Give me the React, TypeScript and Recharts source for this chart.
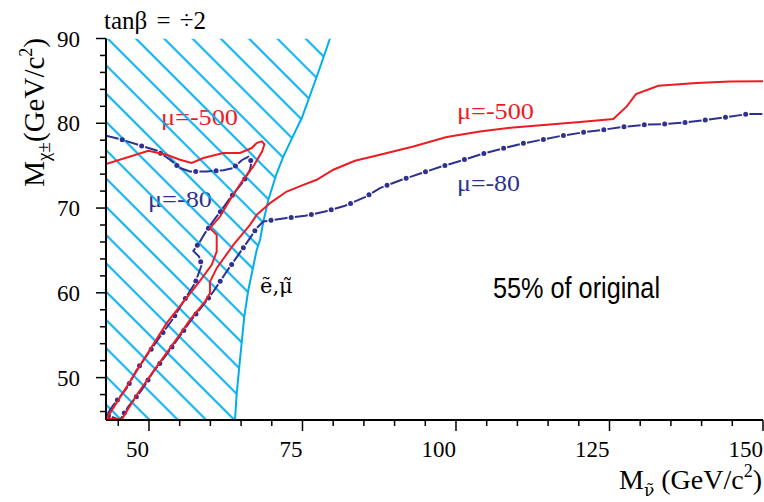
import { ComposedChart, Area, Line, XAxis, YAxis } from 'recharts'

const SERIF = "'Liberation Serif', 'Times New Roman', serif"
const MARK_SERIF = "'DejaVu Serif', serif"
const RED = '#ed1c24'
const NAVY = '#2e3192'
const CYAN = '#00aeef'

const X_DOMAIN = [43, 150]
const Y_DOMAIN = [45, 90]
const X_TICKS = [45, 50, 55, 60, 65, 70, 75, 80, 85, 90, 95, 100, 105, 110, 115, 120, 125, 130, 135, 140, 145, 150]
const X_LABELS = [50, 75, 100, 125, 150]
const Y_TICKS = [46, 48, 50, 52, 54, 56, 58, 60, 62, 64, 66, 68, 70, 72, 74, 76, 78, 80, 82, 84, 86, 88, 90]
const Y_LABELS = [50, 60, 70, 80, 90]

// selectron / smuon limit, the hatched side is to the left
const slepton: [number, number][] = [
  [64.01, 45], [64.29, 48.15], [64.71, 51.29], [65.52, 57.19], [66.18, 60.33], [67.54, 65.05],
  [68.08, 66.23], [68.62, 68.39], [69.43, 70.95], [70.8, 74.1], [71.88, 76.06], [73.41, 78.42],
  [74.87, 80.59], [77.32, 85.49], [79.48, 90],
]

// mu = -500 contour (one path, loops back on the left)
const mu500: [number, number][] = [
  [43.0, 75.19], [49.89, 76.76], [52.88, 76.29], [55.05, 75.7], [56.96, 75.31], [58.85, 75.9],
  [62.1, 76.49], [64.82, 76.49], [66.73, 77.08], [67.54, 77.67], [68.36, 77.86], [68.81, 77.53],
  [68.4, 76.64], [66.99, 74.91], [65.1, 73.1], [63.2, 70.97], [61.57, 69.0], [59.93, 67.63],
  [61.03, 66.84], [61.03, 64.87], [60.22, 63.3], [58.3, 61.4], [52.88, 56.42], [43.65, 45.79],
  [43.1, 45.18], [45.56, 45.05], [47.99, 47.95], [51.26, 51.29], [54.78, 54.83], [56.68, 56.81],
  [59.12, 58.97], [59.93, 59.96], [59.93, 61.29], [61.03, 62.91], [63.74, 65.66], [66.45, 68.02],
  [67.54, 69.2], [69.71, 70.58], [72.43, 71.95], [75.14, 72.74], [77.31, 73.34], [80.02, 74.52],
  [83.55, 75.58], [87.62, 76.29], [93.05, 77.27], [98.49, 78.38], [103.91, 79.04], [109.34, 79.51],
  [114.77, 79.83], [120.2, 80.15], [125.62, 80.5], [127.81, 81.99], [129.32, 83.45], [132.96, 84.43],
  [139.2, 84.75], [144.63, 84.94], [150, 84.97],
]

// mu = -80 contour
const mu80: [number, number][] = [
  [43.0, 78.53], [45.28, 78.14], [49.08, 77.27], [51.26, 76.79], [53.42, 75.7], [55.05, 74.72],
  [56.68, 74.32], [59.4, 74.32], [62.1, 74.46], [63.74, 74.72], [65.1, 75.64], [66.17, 76.05],
  [66.72, 75.46], [66.45, 74.52], [65.36, 73.13], [63.2, 71.17], [61.84, 69.79], [60.48, 68.49],
  [59.12, 67.04], [58.31, 66.05], [57.22, 64.95], [58.15, 64.28], [58.59, 63.3], [57.5, 61.14],
  [55.59, 58.97], [53.97, 57.01], [51.8, 54.83], [49.89, 52.87], [47.99, 50.9], [46.37, 48.74],
  [44.2, 46.77], [43.11, 45.59], [45.28, 45.0], [46.63, 46.57], [48.82, 48.54], [50.7, 50.7],
  [52.61, 52.47], [54.78, 54.65], [56.68, 56.61], [58.85, 58.58], [60.48, 60.15], [62.65, 62.51],
  [64.55, 64.48], [66.45, 66.45], [67.54, 67.63], [68.62, 68.41], [72.15, 68.81], [75.41, 69.09],
  [78.67, 69.59], [81.93, 70.27], [85.19, 71.29], [87.62, 72.36], [91.16, 73.34], [94.42, 74.13],
  [97.68, 74.91], [100.93, 75.61], [104.19, 76.37], [107.45, 77.0], [110.7, 77.59], [113.96, 78.06],
  [117.22, 78.53], [120.64, 78.92], [124.0, 79.24], [127.37, 79.59], [130.79, 79.83], [134.05, 79.91],
  [137.47, 80.1], [140.84, 80.42], [144.19, 80.74], [147.52, 81.09], [150, 81.09],
]

const toPoints = (pts: [number, number][]) => pts.map(([x, y]) => ({ x, y }))

// band from the limit curve up to the top of the frame, for the hatch
const hatchBand = [
  { x: X_DOMAIN[0], band: [Y_DOMAIN[0], Y_DOMAIN[1]] },
  ...slepton.map(([x, y]) => ({ x, band: [y, Y_DOMAIN[1]] })),
]

function BottomTick({ x, y, payload }: any) {
  const major = X_LABELS.includes(payload.value)
  return (
    <g>
      <line x1={x} x2={x} y1={y} y2={y + (major ? 11 : 6)} stroke="#000" strokeWidth={1.5} />
      {major && (
        <text x={x} y={y + 37} textAnchor="end" fontFamily={SERIF} fontSize={23} fill="#000">
          {payload.value}
        </text>
      )}
    </g>
  )
}

function TopTick({ x, y, payload }: any) {
  const major = X_LABELS.includes(payload.value)
  return <line x1={x} x2={x} y1={y} y2={y + (major ? 20 : 10)} stroke="#000" strokeWidth={1.5} />
}

function LeftTick({ x, y, payload }: any) {
  const major = Y_LABELS.includes(payload.value)
  return (
    <g>
      <line x1={x} x2={x - (major ? 10 : 6)} y1={y} y2={y} stroke="#000" strokeWidth={1.5} />
      {major && (
        <text x={x - 26} y={y + 8} textAnchor="end" fontFamily={SERIF} fontSize={23} fill="#000">
          {payload.value}
        </text>
      )}
    </g>
  )
}

function RightTick({ x, y, payload }: any) {
  const major = Y_LABELS.includes(payload.value)
  return <line x1={x} x2={x - (major ? 12 : 7)} y1={y} y2={y} stroke="#000" strokeWidth={1.5} />
}

export default function App() {
  return (
    <div style={{ position: 'absolute', left: 0, top: 0, width: 764, height: 502, background: '#fff' }}>
      <svg width={0} height={0} style={{ position: 'absolute' }}>
        <defs>
          <pattern id="slepHatch" patternUnits="userSpaceOnUse" width={10} height={20} patternTransform="rotate(45)">
            <rect x={0} y={10.2} width={10} height={2} fill={CYAN} />
          </pattern>
        </defs>
      </svg>
      <ComposedChart width={764} height={502} margin={{ top: 38.5, right: 1, bottom: 0, left: 0 }}>
        <XAxis
          type="number"
          dataKey="x"
          domain={X_DOMAIN}
          ticks={X_TICKS}
          interval={0}
          allowDataOverflow
          height={82}
          tickSize={0}
          tickMargin={0}
          tick={<BottomTick />}
          axisLine={{ stroke: '#000', strokeWidth: 2 }}
        />
        <XAxis
          xAxisId="top"
          orientation="top"
          type="number"
          dataKey="x"
          domain={X_DOMAIN}
          ticks={X_TICKS}
          interval={0}
          allowDataOverflow
          height={0}
          tickSize={0}
          tickMargin={0}
          tick={<TopTick />}
          axisLine={{ stroke: '#000', strokeWidth: 1.5 }}
        />
        <YAxis
          type="number"
          domain={Y_DOMAIN}
          ticks={Y_TICKS}
          interval={0}
          allowDataOverflow
          width={106}
          tickSize={0}
          tickMargin={0}
          tick={<LeftTick />}
          axisLine={{ stroke: '#000', strokeWidth: 2 }}
        />
        <YAxis
          yAxisId="right"
          orientation="right"
          type="number"
          domain={Y_DOMAIN}
          ticks={Y_TICKS}
          interval={0}
          allowDataOverflow
          width={0}
          tickSize={0}
          tickMargin={0}
          tick={<RightTick />}
          axisLine={{ stroke: '#000', strokeWidth: 1.5 }}
        />

        <Area
          data={hatchBand}
          dataKey="band"
          type="linear"
          stroke="none"
          fill="url(#slepHatch)"
          fillOpacity={1}
          dot={false}
          activeDot={false}
          isAnimationActive={false}
        />
        <Line data={toPoints(slepton)} dataKey="y" type="linear" stroke={CYAN} strokeWidth={2} dot={false} activeDot={false} isAnimationActive={false} />
        <Line
          data={toPoints(mu80)}
          dataKey="y"
          type="linear"
          stroke={NAVY}
          strokeWidth={2}
          strokeDasharray="13 7.4"
          dot={false}
          activeDot={false}
          isAnimationActive={false}
        />
        <Line
          data={toPoints(mu80)}
          dataKey="y"
          type="linear"
          stroke={NAVY}
          strokeWidth={5}
          strokeLinecap="round"
          strokeDasharray="0 20.4"
          strokeDashoffset={3.7}
          dot={false}
          activeDot={false}
          isAnimationActive={false}
        />
        <Line data={toPoints(mu500)} dataKey="y" type="linear" stroke={RED} strokeWidth={2} dot={false} activeDot={false} isAnimationActive={false} />

        <text x={104} y={29} fontFamily={SERIF} fontSize={25} fill="#000" wordSpacing={3}>
          tanβ = ÷2
        </text>
        <text x={161} y={125} fontFamily={SERIF} fontSize={24} fill={RED} textLength={77} lengthAdjust="spacingAndGlyphs">
          μ=-500
        </text>
        <text x={148} y={207} fontFamily={SERIF} fontSize={24} fill={NAVY} textLength={64} lengthAdjust="spacingAndGlyphs">
          μ=-80
        </text>
        <text x={457} y={118.5} fontFamily={SERIF} fontSize={24} fill={RED} textLength={77} lengthAdjust="spacingAndGlyphs">
          μ=-500
        </text>
        <text x={457} y={191} fontFamily={SERIF} fontSize={24} fill={NAVY} textLength={63} lengthAdjust="spacingAndGlyphs">
          μ=-80
        </text>
        <text x={260} y={293} fontFamily={MARK_SERIF} fontSize={21} fill="#000">
          ẽ,μ̃
        </text>
        <text
          x={493}
          y={298}
          fontFamily="'Liberation Sans Narrow', 'Arial Narrow', 'Liberation Sans', sans-serif"
          fontSize={30}
          fill="#000"
          textLength={167}
          lengthAdjust="spacingAndGlyphs"
        >
          55% of original
        </text>
        <text x={762} y={489} textAnchor="end" fontFamily={SERIF} fontSize={28} fill="#000">
          M
          <tspan fontFamily={MARK_SERIF} fontSize={17} dy={7}>ν̃</tspan>
          <tspan dx={7} dy={-7}>(GeV/c</tspan>
          <tspan fontSize={18} dy={-12}>2</tspan>
          <tspan dy={12}>)</tspan>
        </text>
        <text x={-38} y={44} transform="rotate(-90)" textAnchor="end" fontFamily={SERIF} fontSize={29} fill="#000">
          M
          <tspan fontSize={19} dy={6}>χ±</tspan>
          <tspan dy={-6}>(GeV/c</tspan>
          <tspan fontSize={18} dy={-12}>2</tspan>
          <tspan dy={12}>)</tspan>
        </text>
      </ComposedChart>
    </div>
  )
}
